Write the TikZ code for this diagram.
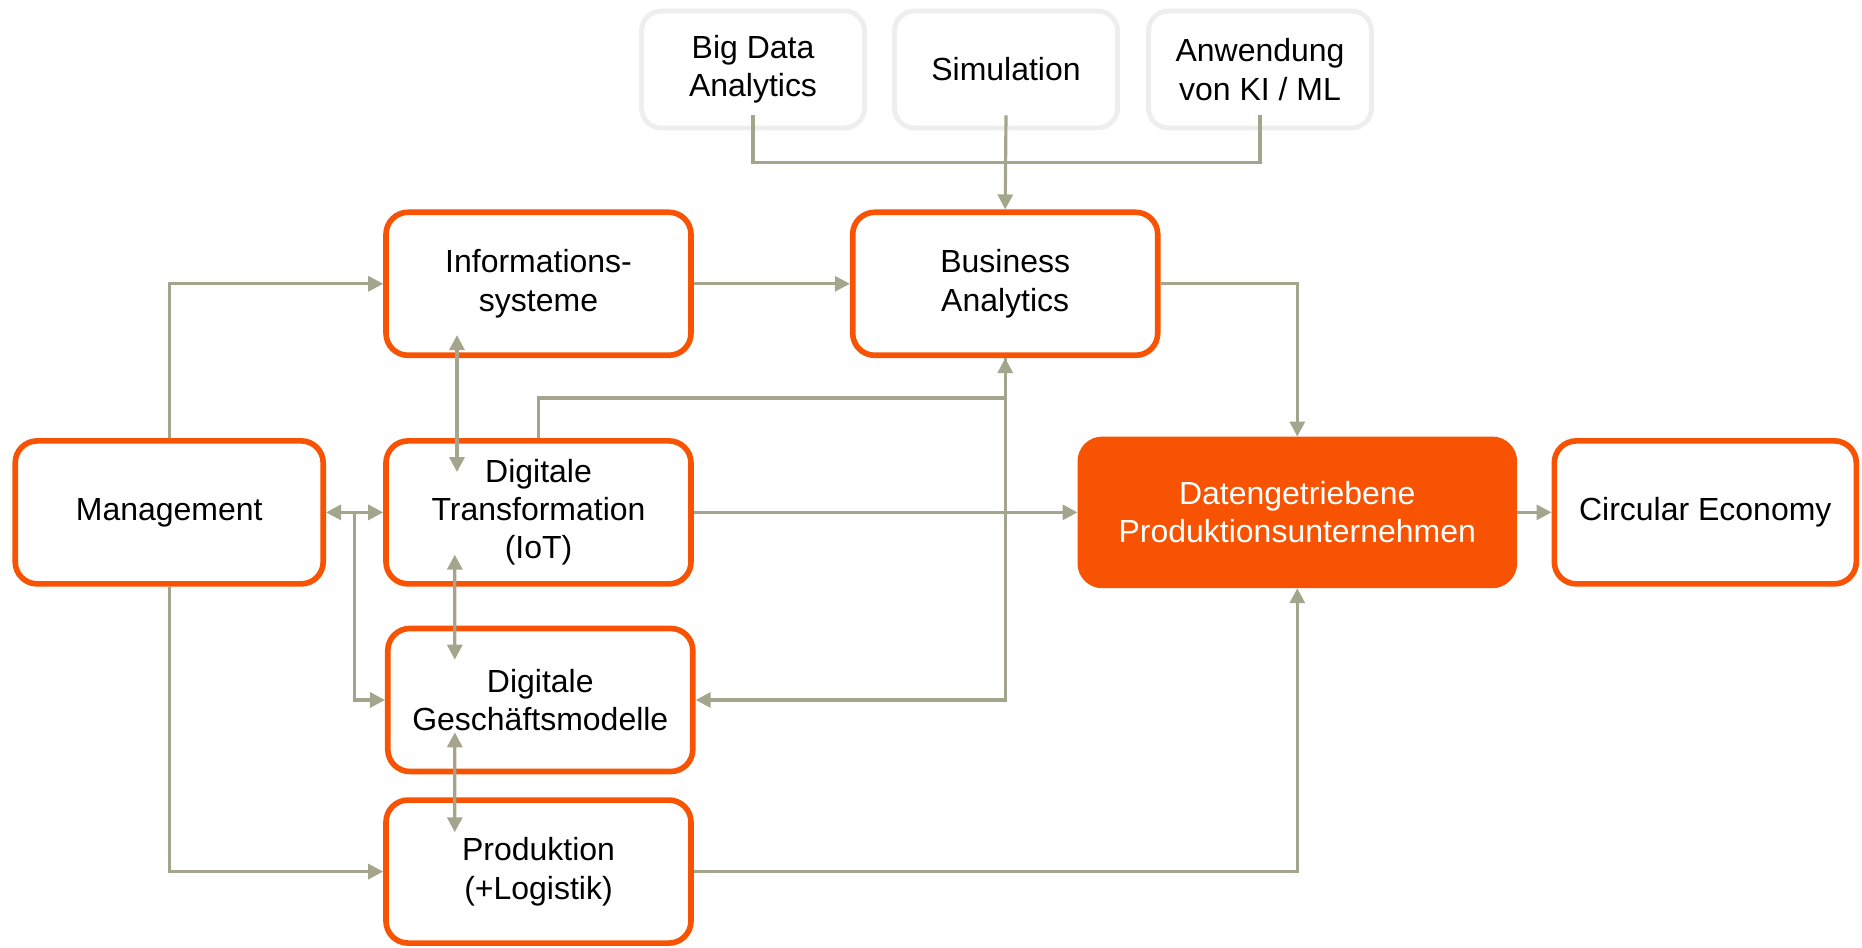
\documentclass[tikz,border=0pt]{standalone}
\usepackage{fontspec}
\setmainfont{Liberation Sans}
\usetikzlibrary{arrows.meta,calc}
\definecolor{orng}{HTML}{F75303}
\definecolor{conncol}{HTML}{A5A58D}
\definecolor{lgrey}{HTML}{EEEEEE}
\tikzset{
  obox/.style={draw=orng,line width=1.6pt,rounded corners=0.22cm,fill=white,
    minimum width=3.05cm,minimum height=1.43cm,align=center,
    font=\fontsize{9.1}{10.9}\selectfont},
  mainbox/.style={obox,fill=orng,text=white,minimum width=4.34cm,minimum height=1.46cm},
  gbox/.style={draw=lgrey,line width=1.4pt,rounded corners=0.2cm,fill=white,
    minimum width=2.23cm,minimum height=1.17cm,align=center,
    font=\fontsize{9.1}{10.9}\selectfont},
  conn/.style={draw=conncol,line width=0.9pt,-{Triangle[width=0.15cm,length=0.15cm]}},
  dconn/.style={conn,{Triangle[width=0.15cm,length=0.15cm]}-{Triangle[width=0.15cm,length=0.15cm]}}
}
\begin{document}
\begin{tikzpicture}
            \useasboundingbox (0,0) rectangle (18.62,9.48);
            \node[gbox] (bd) at (7.53,8.785) {Big Data\\Analytics};
            \node[gbox] (sim) at (10.06,8.785) {Simulation};
            \node[gbox] (ki) at (12.6,8.785) {Anwendung\\von KI / ML};
            \node[obox] (info) at (5.385,6.642) {Informations-\\systeme};
            \node[obox] (ba) at (10.052,6.642) {Business\\Analytics};
            \node[obox,minimum width=3.08cm] (mgmt) at (1.692,4.356) {Management};
            \node[obox] (dt) at (5.385,4.356) {Digitale\\Transformation\\(IoT)};
            \node[obox] (dg) at (5.403,2.48) {Digitale\\Geschäftsmodelle};
            \node[obox] (prod) at (5.385,0.764) {Produktion\\(+Logistik)};
            \node[mainbox] (dp) at (12.973,4.356) {Datengetriebene\\Produktionsunternehmen};
            \node[obox,minimum width=3.02cm] (ce) at (17.053,4.356) {Circular Economy};
            % top inputs
            \draw[draw=conncol,line width=0.9pt] ([yshift=0.15cm]bd.south) -- ++(0,-0.47) -| ([yshift=0.15cm]ki.south);
            \draw[conn] ([yshift=0.15cm]sim.south) -- (ba.north);
            % main flow
            \draw[conn] (mgmt.north) |- (info.west);
            \draw[conn] (info.east) -- (ba.west);
            \draw[conn] (ba.east) -| (dp.north);
            \draw[conn] (dt.north) -- ++(0,0.4) -| (ba.south);
            \draw[conn] (ba.south) |- (dg.east);
            \draw[conn] (dt.east) -- (dp.west);
            \draw[dconn] (mgmt.east) -- (dt.west);
            \draw[conn] ($(mgmt.east)!0.5!(dt.west)$) |- (dg.west);
            \draw[conn] (mgmt.south) |- (prod.west);
            \draw[conn] (prod.east) -| (dp.south);
            \draw[conn] (dp.east) -- (ce.west);
            % double arrows inside the column
            \draw[dconn] ($(info.south)+(-0.815,0.23)$) -- ($(dt.north)+(-0.815,-0.34)$);
            \draw[dconn] ($(dt.south)+(-0.837,0.32)$) -- ($(dg.north)+(-0.855,-0.34)$);
            \draw[dconn] ($(dg.south)+(-0.855,0.42)$) -- ($(prod.north)+(-0.837,-0.35)$);
        \end{tikzpicture}
\end{document}
